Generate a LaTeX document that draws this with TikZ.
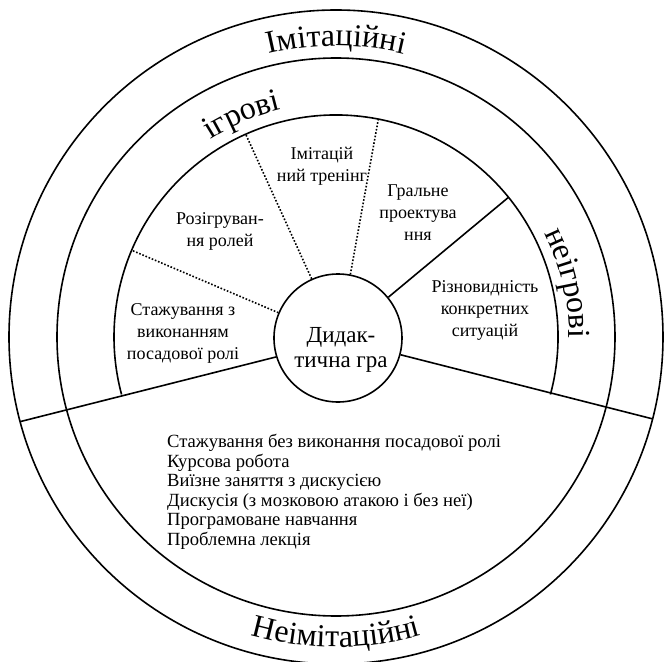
\documentclass[tikz,border=0pt]{standalone}
\usepackage{fontspec}
\setmainfont{Liberation Serif}
\usetikzlibrary{decorations.text}

\newcommand{\ringfont}{\fontsize{32}{36}\selectfont}
\newcommand{\cellfont}{\fontsize{18}{22}\selectfont}

\begin{document}
\begin{tikzpicture}[x=1pt,y=1pt,
    rim/.style={line width=1.6pt},
    gap/.style={line width=1.6pt,dash pattern=on 1.6pt off 1.8pt},
    cell/.style={align=center,font=\cellfont,inner sep=0pt}]
  \useasboundingbox (-336,-325) rectangle (329,337);
  % rings
  \draw[rim] (0,0) circle[radius=327];
  \draw[rim] (0,0) circle[radius=279];
  \draw[rim] (345:222) arc[start angle=-15,end angle=195,radius=222];
  \node[circle,draw,rim,minimum size=128pt,inner sep=0pt] (gra) at (2,-1) {};
  \node[cell,font=\fontsize{23}{25}\selectfont] (gratext) at (5,-13) {Дидак-\\тична гра};
  % dividers
  \coordinate (lend) at (195:327);
  \coordinate (rend) at (345.5:327);
  \coordinate (send) at (39:222);
  \draw[rim] (gra.197) -- (lend);
  \draw[rim] (gra.345) -- (rend);
  \draw[rim] (gra.39) -- (send);
  \foreach \a/\n in {157/a,114/b,79/c}{
    \coordinate (d\n) at (\a:222);
    \draw[gap] (gra.\a) -- (d\n);
  }
  % sectors
  \node[cell] (stazh) at (-153,4) {Стажування з\\виконанням\\посадової ролі};
  \node[cell] (rozigr) at (-116,106) {Розігруван-\\ня ролей};
  \node[cell] (trening) at (-14,171) {Імітацій\\ний тренінг};
  \node[cell] (proekt) at (82,124) {Гральне\\проектува\\ння};
  \node[cell] (sytuac) at (149,27) {Різновидність\\конкретних\\ситуацій};
  \node[anchor=north west,align=left,inner sep=0pt,font=\fontsize{18.6}{19.5}\selectfont] (nonimit) at (-169,-97)
    {Стажування без виконання посадової ролі\\Курсова робота\\Виїзне заняття з дискусією\\Дискусія (з мозковою атакою і без неї)\\Програмоване навчання\\Проблемна лекція};
  % ring labels
  \path[decorate,decoration={text along path,text align=center,text={|\ringfont|Імітаційні}}]
    (115:291) arc[start angle=115,end angle=65,radius=291];
  \path[decorate,decoration={text along path,text align=center,text={|\ringfont|Неімітаційні}}]
    (235:310) arc[start angle=235,end angle=305,radius=310];
  \path[decorate,decoration={text along path,text align=center,text={|\ringfont|ігрові}}]
    (140:234) arc[start angle=140,end angle=86,radius=234];
  \path[decorate,decoration={text along path,text align=center,text={|\ringfont|неігрові}}]
    (45:233) arc[start angle=45,end angle=-19,radius=233];
\end{tikzpicture}
\end{document}
